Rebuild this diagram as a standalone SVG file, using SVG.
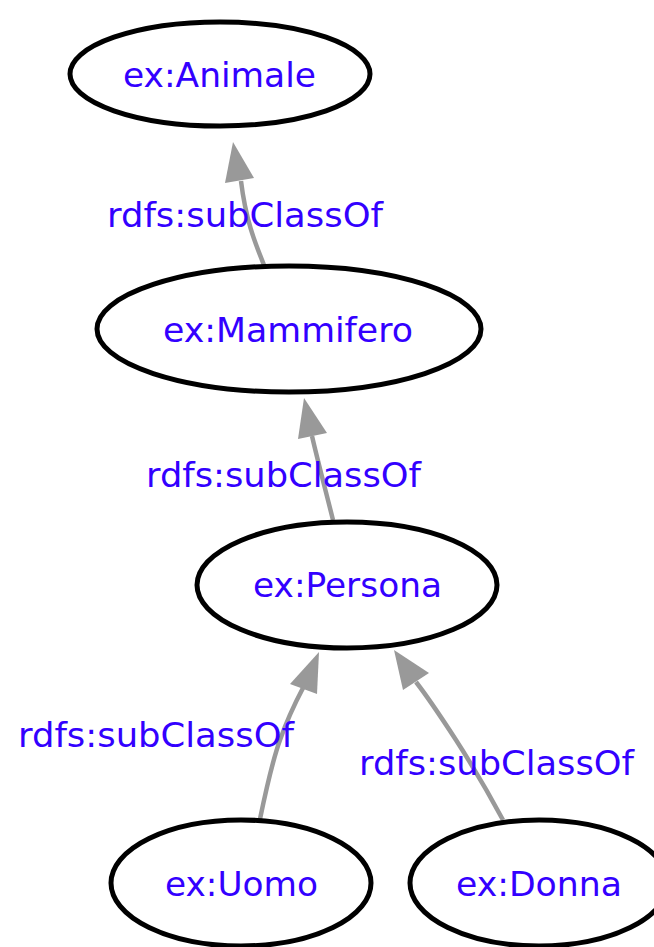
<svg xmlns="http://www.w3.org/2000/svg" width="654" height="947" viewBox="0 0 654 947">
  <style>
    .node ellipse { fill: #ffffff; stroke: #000000; stroke-width: 5; }
    .lbl { font-family: "DejaVu Sans", "Liberation Sans", sans-serif; font-size: 33px; fill: #3300ff; text-anchor: middle; }
    .edge { fill: none; stroke: #999999; stroke-width: 4.5; }
    .head { fill: #999999; stroke: none; }
  </style>
  <rect width="654" height="947" fill="#ffffff"/>

  <g id="connectors">
    <!-- Mammifero -> Animale -->
    <path class="edge" d="M264,265 C256,245 246,222 241,181"/>
    <polygon class="head" points="233,142 225,183 254,178"/>
    <!-- Persona -> Mammifero -->
    <path class="edge" d="M333,520 C326,492 318,462 312,436"/>
    <polygon class="head" points="304,398 298,439 327,433"/>
    <!-- Uomo -> Persona -->
    <path class="edge" d="M260,819 C266,790 272,762 280,740 C287,720 294,705 303,688"/>
    <polygon class="head" points="319,652 290,684 317,694"/>
    <!-- Donna -> Persona -->
    <path class="edge" d="M503,820 C488,792 472,765 456,740 C443,720 430,700 416,682"/>
    <polygon class="head" points="394,650 403,690 429,673"/>
    <text class="lbl" x="245" y="227" textLength="276" lengthAdjust="spacingAndGlyphs">rdfs:subClassOf</text>
    <text class="lbl" x="283.5" y="487" textLength="275" lengthAdjust="spacingAndGlyphs">rdfs:subClassOf</text>
    <text class="lbl" x="156" y="747" textLength="276" lengthAdjust="spacingAndGlyphs">rdfs:subClassOf</text>
    <text class="lbl" x="496.5" y="775" textLength="275" lengthAdjust="spacingAndGlyphs">rdfs:subClassOf</text>
  </g>

  <g id="animale" class="node">
    <ellipse cx="220" cy="74" rx="150" ry="52"/>
    <text class="lbl" x="219.5" y="87" textLength="193" lengthAdjust="spacingAndGlyphs">ex:Animale</text>
  </g>
  <g id="mammifero" class="node">
    <ellipse cx="289" cy="329" rx="192" ry="63"/>
    <text class="lbl" x="288" y="342" textLength="250" lengthAdjust="spacingAndGlyphs">ex:Mammifero</text>
  </g>
  <g id="persona" class="node">
    <ellipse cx="347" cy="585" rx="150" ry="63"/>
    <text class="lbl" x="347.5" y="597" textLength="189" lengthAdjust="spacingAndGlyphs">ex:Persona</text>
  </g>
  <g id="uomo" class="node">
    <ellipse cx="241" cy="883" rx="130" ry="63"/>
    <text class="lbl" x="241.5" y="896" textLength="153" lengthAdjust="spacingAndGlyphs">ex:Uomo</text>
  </g>
  <g id="donna" class="node">
    <ellipse cx="539" cy="883" rx="129" ry="63"/>
    <text class="lbl" x="539" y="896" textLength="166" lengthAdjust="spacingAndGlyphs">ex:Donna</text>
  </g>
</svg>
